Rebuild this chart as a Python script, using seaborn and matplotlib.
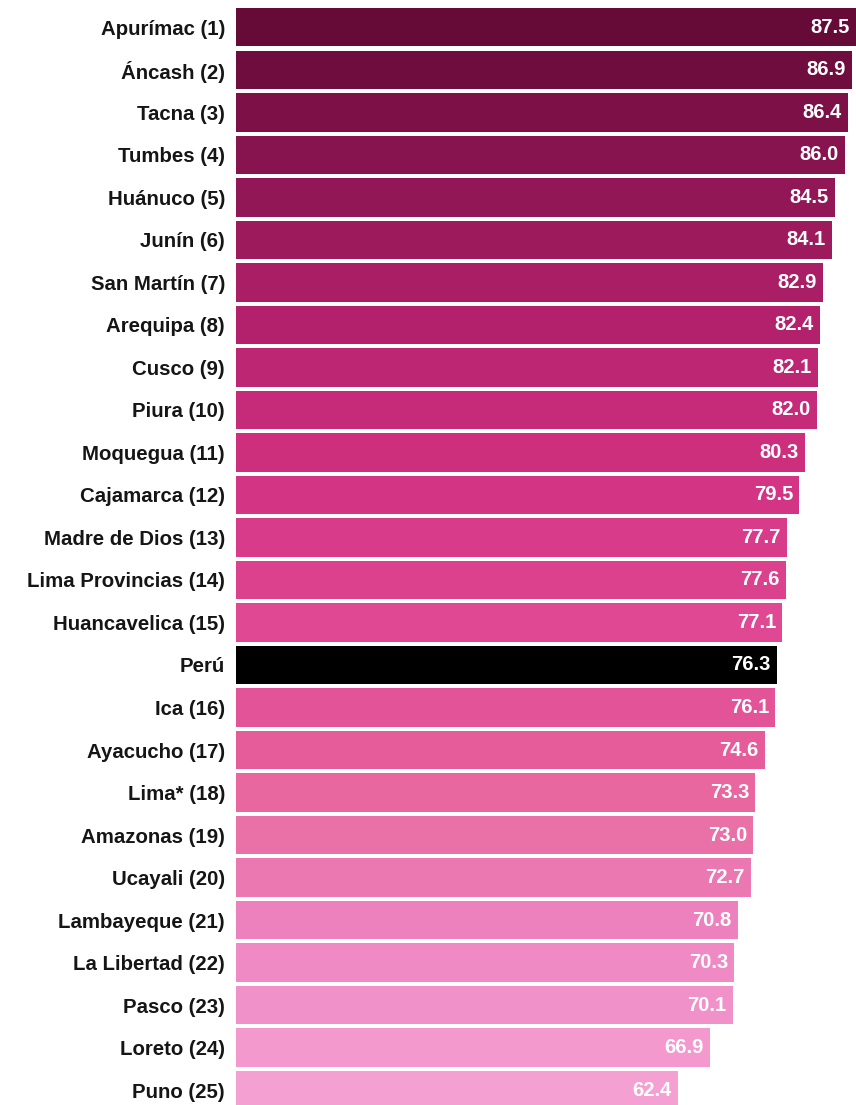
import matplotlib
matplotlib.use("Agg")
import matplotlib.pyplot as plt
from matplotlib.colors import LinearSegmentedColormap, to_hex
import seaborn as sns
import pandas as pd
import numpy as np

regions = ["Apurímac (1)", "Áncash (2)", "Tacna (3)", "Tumbes (4)", "Huánuco (5)",
           "Junín (6)", "San Martín (7)", "Arequipa (8)", "Cusco (9)", "Piura (10)",
           "Moquegua (11)", "Cajamarca (12)", "Madre de Dios (13)", "Lima Provincias (14)",
           "Huancavelica (15)", "Perú", "Ica (16)", "Ayacucho (17)", "Lima* (18)",
           "Amazonas (19)", "Ucayali (20)", "Lambayeque (21)", "La Libertad (22)",
           "Pasco (23)", "Loreto (24)", "Puno (25)"]
values = [87.5, 86.9, 86.4, 86.0, 84.5, 84.1, 82.9, 82.4, 82.1, 82.0, 80.3, 79.5,
          77.7, 77.6, 77.1, 76.3, 76.1, 74.6, 73.3, 73.0, 72.7, 70.8, 70.3, 70.1,
          66.9, 62.4]
national = "Perú"

df = pd.DataFrame({"region": regions, "value": values})

cmap = LinearSegmentedColormap.from_list(
    "pk", ["#660a38", "#8c1552", "#b2216b", "#d0307f", "#df4592", "#e9689f", "#ee86c2", "#f5a0d2"])
n_reg = len(regions) - 1
colors = []
k = 0
for r in regions:
    if r == national:
        colors.append("#000000")
    else:
        colors.append(to_hex(cmap(k / (n_reg - 1))))
        k += 1

fig = plt.figure(figsize=(8.56, 11.05), dpi=100)
ax = fig.add_axes([236 / 856, 0, 1 - 236 / 856, 1])
sns.barplot(data=df, x="value", y="region", hue="region", palette=colors,
            legend=False, width=0.905, orient="h", ax=ax, saturation=1)

ax.set_xlim(0, 87.5)
ax.set_ylim(25.35, -0.641)
for i, v in enumerate(values):
    ax.annotate(f"{v:.1f}", xy=(v, i), xytext=(-4.5, 0), textcoords="offset points",
                ha="right", va="center", color="white", fontsize=14.5,
                fontweight="bold", family="Liberation Sans")

ax.set_xlabel("")
ax.set_ylabel("")
ax.set_xticks([])
ax.tick_params(axis="y", length=0, pad=8)
for lab in ax.get_yticklabels():
    lab.set_fontsize(14.7)
    lab.set_fontweight("bold")
    lab.set_family("Liberation Sans")
    lab.set_color("#151515")
for s in ax.spines.values():
    s.set_visible(False)
ax.set_facecolor("white")

fig.savefig("out.png", dpi=100, facecolor="white")
